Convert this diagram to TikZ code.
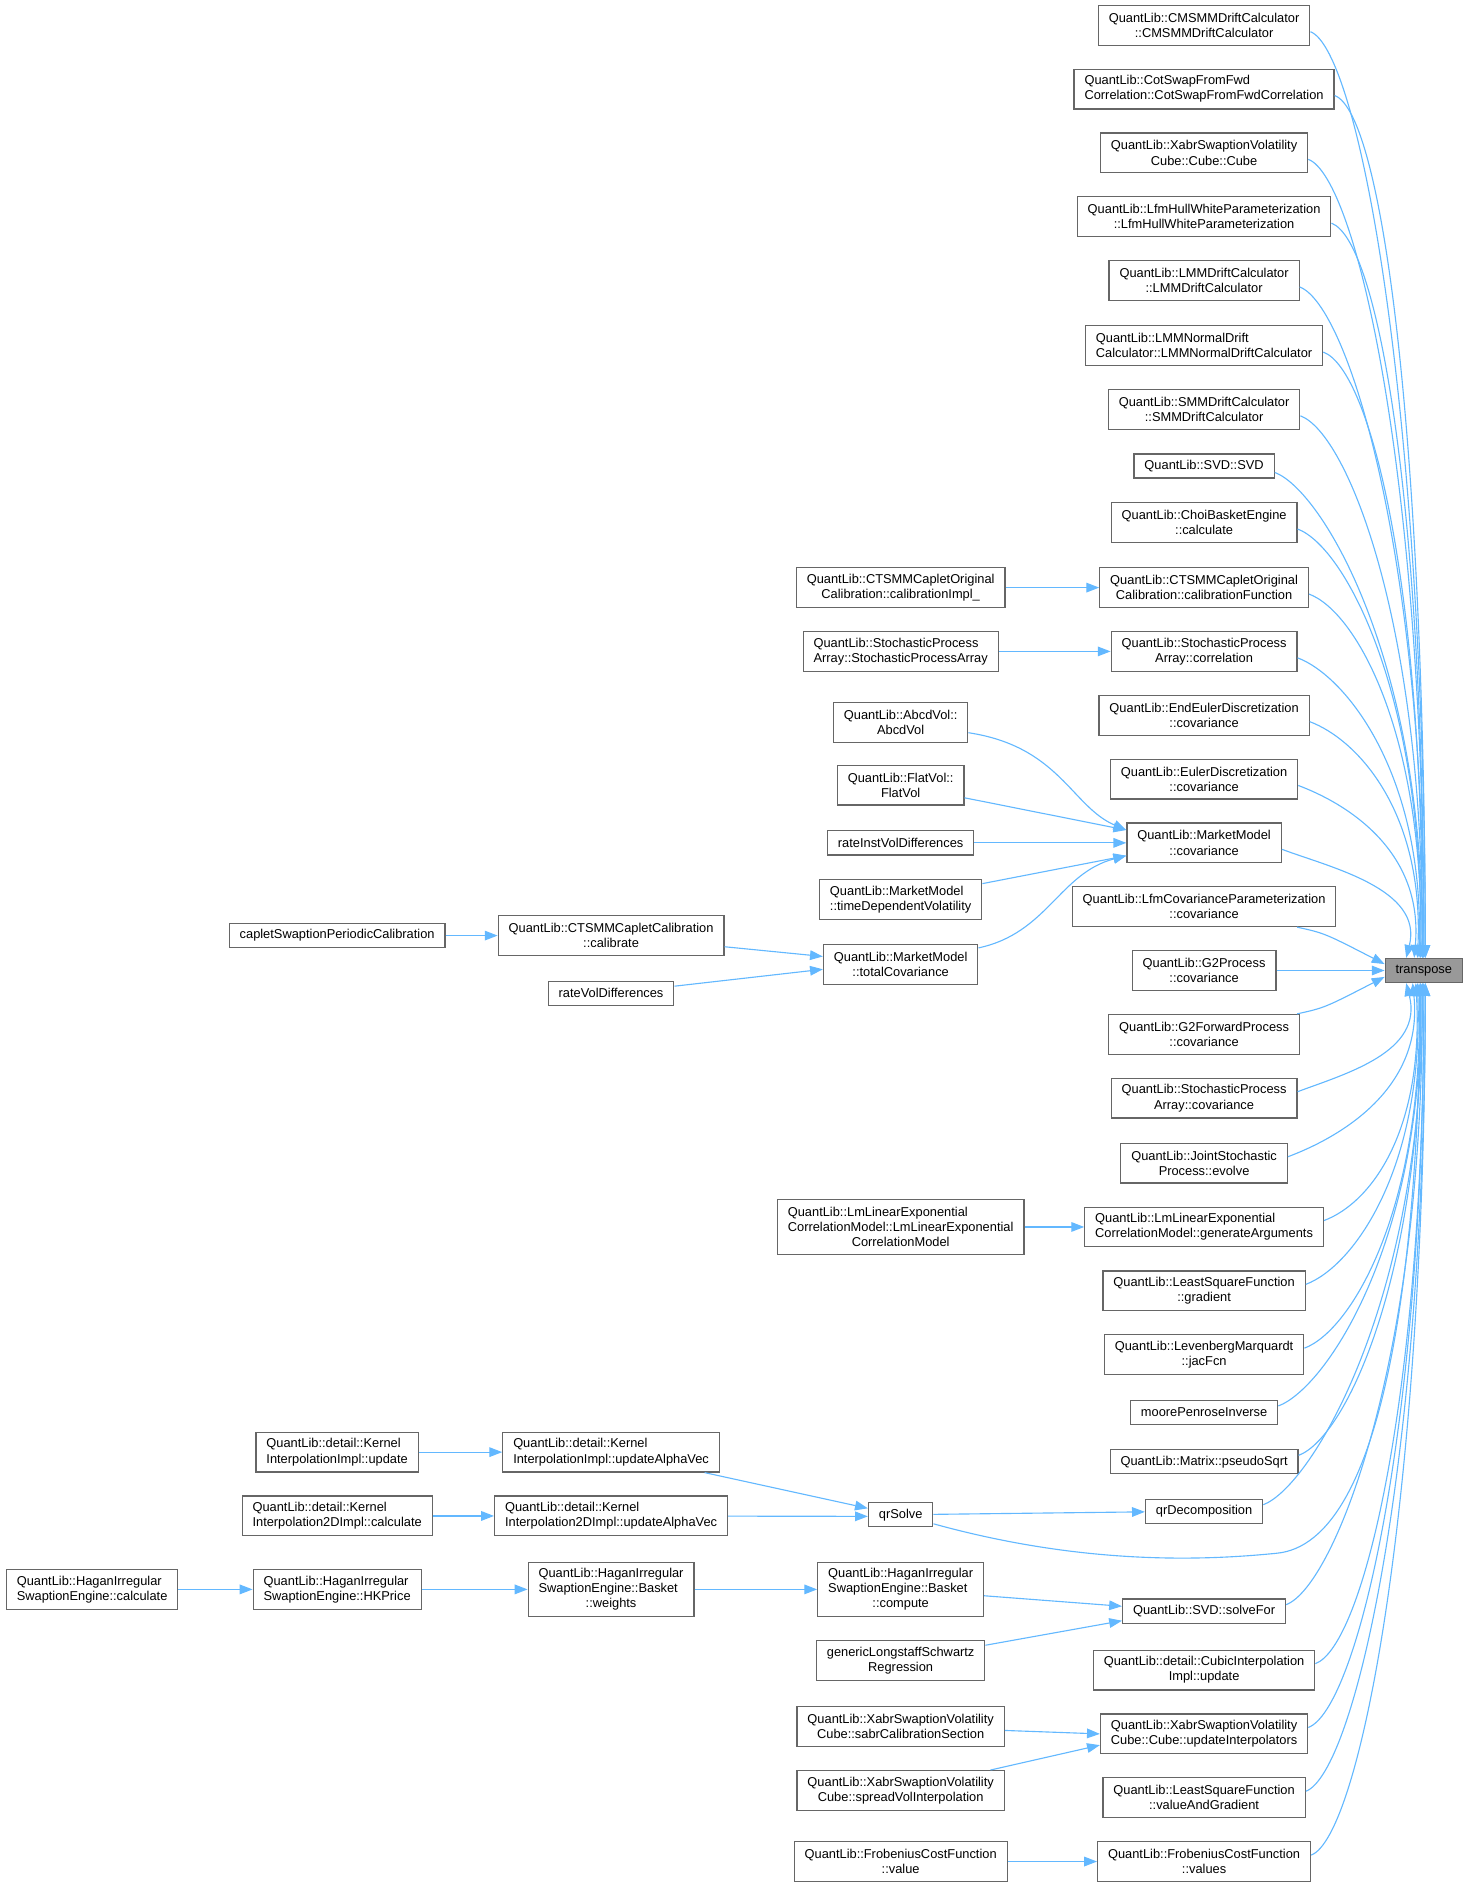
\documentclass[tikz,border=0pt]{standalone}
\usepackage{fontspec}
\setmainfont{Liberation Sans}
\usetikzlibrary{arrows.meta,calc}
\definecolor{fnline}{HTML}{666666}
\definecolor{fnhl}{HTML}{999999}
\definecolor{callblue}{HTML}{63B8FF}
\newcommand{\lastln}[1]{\hspace*{\fill}#1\hspace*{\fill}\null}
\tikzset{
  fn/.style={draw=fnline,line width=0.75pt,fill=white,align=left,inner xsep=6.5pt,inner ysep=2pt,minimum height=15pt,font=\fontsize{8}{9.4}\selectfont},
  fn2/.style={fn,minimum height=24.75pt},
  fn3/.style={fn,minimum height=34pt},
  fnself/.style={fn,fill=fnhl},
  call/.style={draw=callblue,line width=0.7pt,-{Triangle[length=8pt,width=6pt]}}
}
\begin{document}
\begin{tikzpicture}[x=0.75pt,y=-0.75pt]
\useasboundingbox (0,0) rectangle (1220,1568);
\node[fnself] (tp) at (1182.5,806) {transpose};
\node[fn2] (cmsmm) at (1000,21) {QuantLib::CMSMMDriftCalculator\\\lastln{::CMSMMDriftCalculator}};
\node[fn2] (cotswap) at (1000,74) {QuantLib::CotSwapFromFwd\\\lastln{Correlation::CotSwapFromFwdCorrelation}};
\node[fn2] (xcube) at (1000,127) {QuantLib::XabrSwaptionVolatility\\\lastln{Cube::Cube::Cube}};
\node[fn2] (lfmhw) at (1000,180) {QuantLib::LfmHullWhiteParameterization\\\lastln{::LfmHullWhiteParameterization}};
\node[fn2] (lmmdc) at (1000,233) {QuantLib::LMMDriftCalculator\\\lastln{::LMMDriftCalculator}};
\node[fn2] (lmmnd) at (1000,287) {QuantLib::LMMNormalDrift\\\lastln{Calculator::LMMNormalDriftCalculator}};
\node[fn2] (smmdc) at (1000,340) {QuantLib::SMMDriftCalculator\\\lastln{::SMMDriftCalculator}};
\node[fn] (svd) at (1000,387) {QuantLib::SVD::SVD};
\node[fn2] (choi) at (1000,434) {QuantLib::ChoiBasketEngine\\\lastln{::calculate}};
\node[fn2] (cfn) at (1000,488) {QuantLib::CTSMMCapletOriginal\\\lastln{Calibration::calibrationFunction}};
\node[fn2] (spacorr) at (1000,541) {QuantLib::StochasticProcess\\\lastln{Array::correlation}};
\node[fn2] (endeuler) at (1000,594) {QuantLib::EndEulerDiscretization\\\lastln{::covariance}};
\node[fn2] (euler) at (1000,647) {QuantLib::EulerDiscretization\\\lastln{::covariance}};
\node[fn2] (mmcov) at (1000,700) {QuantLib::MarketModel\\\lastln{::covariance}};
\node[fn2] (lfmcov) at (1000,753) {QuantLib::LfmCovarianceParameterization\\\lastln{::covariance}};
\node[fn2] (g2) at (1000,806) {QuantLib::G2Process\\\lastln{::covariance}};
\node[fn2] (g2fwd) at (1000,859) {QuantLib::G2ForwardProcess\\\lastln{::covariance}};
\node[fn2] (spacov) at (1000,912) {QuantLib::StochasticProcess\\\lastln{Array::covariance}};
\node[fn2] (joint) at (1000,966) {QuantLib::JointStochastic\\\lastln{Process::evolve}};
\node[fn2] (genargs) at (1000,1019) {QuantLib::LmLinearExponential\\\lastln{CorrelationModel::generateArguments}};
\node[fn2] (lsqgrad) at (1000,1072) {QuantLib::LeastSquareFunction\\\lastln{::gradient}};
\node[fn2] (lmjac) at (1000,1125) {QuantLib::LevenbergMarquardt\\\lastln{::jacFcn}};
\node[fn] (moore) at (1000,1173) {moorePenroseInverse};
\node[fn] (psqrt) at (1000,1214) {QuantLib::Matrix::pseudoSqrt};
\node[fn] (qrd) at (1000,1255) {qrDecomposition};
\node[fn] (solvefor) at (1000,1338) {QuantLib::SVD::solveFor};
\node[fn2] (cubic) at (1000,1387) {QuantLib::detail::CubicInterpolation\\\lastln{Impl::update}};
\node[fn2] (updint) at (1000,1440) {QuantLib::XabrSwaptionVolatility\\\lastln{Cube::Cube::updateInterpolators}};
\node[fn2] (lsqvg) at (1000,1493) {QuantLib::LeastSquareFunction\\\lastln{::valueAndGradient}};
\node[fn2] (frobs) at (1000,1546) {QuantLib::FrobeniusCostFunction\\\lastln{::values}};
\node[fn2] (cimpl) at (748,488) {QuantLib::CTSMMCapletOriginal\\\lastln{Calibration::calibrationImpl\_}};
\node[fn2] (spactor) at (748,541) {QuantLib::StochasticProcess\\\lastln{Array::StochasticProcessArray}};
\node[fn2] (abcd) at (748,600) {QuantLib::AbcdVol::\\\lastln{AbcdVol}};
\node[fn2] (flat) at (748,652) {QuantLib::FlatVol::\\\lastln{FlatVol}};
\node[fn] (rinst) at (748,700) {rateInstVolDifferences};
\node[fn2] (tdvol) at (748,747) {QuantLib::MarketModel\\\lastln{::timeDependentVolatility}};
\node[fn2] (totcov) at (748,801) {QuantLib::MarketModel\\\lastln{::totalCovariance}};
\node[fn3] (lmctor) at (748,1019) {QuantLib::LmLinearExponential\\CorrelationModel::LmLinearExponential\\\lastln{CorrelationModel}};
\node[fn] (qs) at (748,1258) {qrSolve};
\node[fn3] (compute) at (748,1320) {QuantLib::HaganIrregular\\SwaptionEngine::Basket\\\lastln{::compute}};
\node[fn2] (gls) at (748,1379) {genericLongstaffSchwartz\\\lastln{Regression}};
\node[fn2] (sabr) at (748,1434) {QuantLib::XabrSwaptionVolatility\\\lastln{Cube::sabrCalibrationSection}};
\node[fn2] (spread) at (748,1487) {QuantLib::XabrSwaptionVolatility\\\lastln{Cube::spreadVolInterpolation}};
\node[fn2] (frob) at (748,1546) {QuantLib::FrobeniusCostFunction\\\lastln{::value}};
\node[fn2] (calib) at (507.5,777) {QuantLib::CTSMMCapletCalibration\\\lastln{::calibrate}};
\node[fn] (rvol) at (507.5,825) {rateVolDifferences};
\node[fn2] (kalpha) at (507.5,1206) {QuantLib::detail::Kernel\\\lastln{InterpolationImpl::updateAlphaVec}};
\node[fn2] (ktwoalpha) at (507.5,1259) {QuantLib::detail::Kernel\\\lastln{Interpolation2DImpl::updateAlphaVec}};
\node[fn3] (weights) at (507.5,1320) {QuantLib::HaganIrregular\\SwaptionEngine::Basket\\\lastln{::weights}};
\node[fn] (caplet) at (280,777) {capletSwaptionPeriodicCalibration};
\node[fn2] (kupd) at (280,1206) {QuantLib::detail::Kernel\\\lastln{InterpolationImpl::update}};
\node[fn2] (ktwocalc) at (280,1259) {QuantLib::detail::Kernel\\\lastln{Interpolation2DImpl::calculate}};
\node[fn2] (hkprice) at (280,1320) {QuantLib::HaganIrregular\\\lastln{SwaptionEngine::HKPrice}};
\node[fn2] (hcalc) at (76.5,1320) {QuantLib::HaganIrregular\\\lastln{SwaptionEngine::calculate}};
% callers of transpose
\foreach \n/\dx in {cmsmm/1,cotswap/1,xcube/0,lfmhw/0,lmmdc/0,lmmnd/-1,smmdc/-1,svd/-1,choi/-2,cfn/-2,spacorr/-3,endeuler/-4,euler/-6,mmcov/-11}
  \draw[call] ([yshift=-4pt]\n.east) .. controls +(40,15) and ($(tp.north)!0.6!(tp.north |- \n.east)$) .. ([xshift=\dx pt]tp.north);
\foreach \n/\dx in {spacov/-11,joint/-7,genargs/-5,lsqgrad/-4,lmjac/-3,moore/-2,psqrt/-2,qrd/-1,solvefor/-1,cubic/0,updint/0,lsqvg/1,frobs/1}
  \draw[call] ([yshift=4pt]\n.east) .. controls +(40,-15) and ($(tp.south)!0.6!(tp.south |- \n.east)$) .. ([xshift=\dx pt]tp.south);
\draw[call] (lfmcov) .. controls (1100,775) .. ([yshift=4pt]tp.west);
\draw[call] (g2) -- (tp);
\draw[call] (g2fwd) .. controls (1100,837) .. ([yshift=-4pt]tp.west);
\draw[call] (qs) .. controls (900,1300) and (1000,1296) .. (1060,1290)
  .. controls (1150,1282) and (1178,1050) .. ([xshift=-2pt]tp.south);
% second level
\draw[call] (cimpl) -- (cfn);
\draw[call] (spactor) -- (spacorr);
\draw[call] (abcd) .. controls (880,620) and (890,670) .. ([yshift=8pt]mmcov.west);
\draw[call] (flat) -- ([yshift=8pt]mmcov.west);
\draw[call] (rinst) -- (mmcov);
\draw[call] (tdvol) -- ([yshift=-8pt]mmcov.west);
\draw[call] (totcov) .. controls (870,775) and (880,725) .. ([yshift=-8pt]mmcov.west);
\draw[call] (lmctor) -- (genargs);
\draw[call] (qs) -- (qrd);
\draw[call] (compute) -- ([yshift=3pt]solvefor.west);
\draw[call] (gls) -- ([yshift=-6pt]solvefor.west);
\draw[call] (sabr) -- (updint.west);
\draw[call] (spread) -- ([yshift=-7pt]updint.west);
\draw[call] (frob) -- (frobs);
\draw[call] (calib) -- ([yshift=5pt]totcov.west);
\draw[call] (rvol) -- ([yshift=-3pt]totcov.west);
\draw[call] (kalpha) -- ([yshift=4pt]qs.west);
\draw[call] (ktwoalpha) -- ([yshift=-1pt]qs.west);
\draw[call] (weights) -- (compute);
\draw[call] (caplet) -- (calib);
\draw[call] (kupd) -- (kalpha);
\draw[call] (ktwocalc) -- (ktwoalpha);
\draw[call] (hkprice) -- (weights);
\draw[call] (hcalc) -- (hkprice);
\end{tikzpicture}
\end{document}
